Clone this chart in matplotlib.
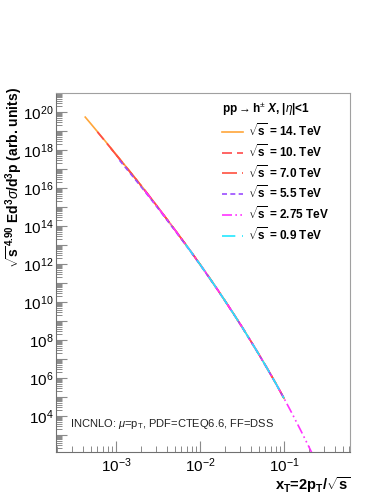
import math
import matplotlib
matplotlib.use("Agg")
import matplotlib.pyplot as plt
from matplotlib.ticker import LogLocator, FixedLocator, NullFormatter, FuncFormatter

plt.rcParams['font.family'] = ['Liberation Sans', 'DejaVu Sans']
plt.rcParams['mathtext.fontset'] = 'custom'
plt.rcParams['mathtext.rm'] = 'Liberation Sans'
plt.rcParams['mathtext.bf'] = 'Liberation Sans:bold'
plt.rcParams['mathtext.it'] = 'Liberation Sans:italic'
plt.rcParams['mathtext.bfit'] = 'Liberation Sans:bold:italic'

# ---- data ----
energies = ["14.", "10.", "7.0", "5.5", "2.75", "0.9"]

xt_14 = [4.3e-4, 5.0e-4, 6.0e-4, 7.0e-4, 8.6e-4, 1.1e-3, 1.3e-3, 1.6e-3, 2.2e-3,
         3.0e-3, 4.0e-3, 5.0e-3, 6.7e-3, 8.0e-3, 1.0e-2, 1.3e-2, 1.6e-2, 2.0e-2,
         2.5e-2, 3.2e-2, 4.0e-2, 5.0e-2, 6.3e-2, 8.0e-2, 1.0e-1]
y_14 = [5.4e19, 2.45e19, 9.3e18, 4.1e18, 1.35e18, 3.55e17, 1.43e17, 4.6e16, 7.8e15,
        1.32e15, 2.45e14, 6.6e13, 1.15e13, 3.9e12, 9.8e11, 1.86e11, 4.9e10, 1.12e10,
        2.5e9, 4.6e8, 9.3e7, 1.86e7, 3.3e6, 5.25e5, 8.7e4]

xt_10 = [6.0e-4, 7.0e-4, 8.6e-4, 1.1e-3, 1.3e-3, 1.6e-3, 2.2e-3,
         3.0e-3, 4.0e-3, 5.0e-3, 6.7e-3, 8.0e-3, 1.0e-2, 1.3e-2, 1.6e-2, 2.0e-2,
         2.5e-2, 3.2e-2, 4.0e-2, 5.0e-2, 6.3e-2, 8.0e-2, 1.0e-1]
y_10 = [9.0e18, 3.95e18, 1.3e18, 3.4e17, 1.38e17, 4.45e16, 7.6e15,
        1.29e15, 2.4e14, 6.5e13, 1.13e13, 3.85e12, 9.7e11, 1.84e11, 4.85e10, 1.11e10,
        2.48e9, 4.55e8, 9.2e7, 1.84e7, 3.27e6, 5.2e5, 8.6e4]

xt_7 = [8.6e-4, 1.1e-3, 1.3e-3, 1.6e-3, 2.2e-3,
        3.0e-3, 4.0e-3, 5.0e-3, 6.7e-3, 8.0e-3, 1.0e-2, 1.3e-2, 1.6e-2, 2.0e-2,
        2.5e-2, 3.2e-2, 4.0e-2, 5.0e-2, 6.3e-2, 8.0e-2, 1.0e-1]
y_7 = [1.28e18, 3.35e17, 1.35e17, 4.4e16, 7.5e15,
       1.28e15, 2.38e14, 6.45e13, 1.12e13, 3.82e12, 9.6e11, 1.83e11, 4.8e10, 1.1e10,
       2.46e9, 4.52e8, 9.15e7, 1.83e7, 3.25e6, 5.2e5, 8.6e4]

xt_55 = [1.1e-3, 1.3e-3, 1.6e-3, 2.2e-3,
         3.0e-3, 4.0e-3, 5.0e-3, 6.7e-3, 8.0e-3, 1.0e-2, 1.3e-2, 1.6e-2, 2.0e-2,
         2.5e-2, 3.2e-2, 4.0e-2, 5.0e-2, 6.3e-2, 8.0e-2, 1.0e-1]
y_55 = [2.9e17, 1.18e17, 3.85e16, 6.7e15,
        1.16e15, 2.2e14, 6.0e13, 1.06e13, 3.65e12, 9.3e11, 1.78e11, 4.7e10, 1.08e10,
        2.42e9, 4.45e8, 9.0e7, 1.8e7, 3.2e6, 5.1e5, 8.5e4]

xt_275 = [2.2e-3, 3.0e-3, 4.0e-3, 5.0e-3, 6.7e-3, 8.0e-3, 1.0e-2, 1.3e-2, 1.6e-2,
          2.0e-2, 2.5e-2, 3.2e-2, 4.0e-2, 5.0e-2, 6.3e-2, 8.0e-2, 1.0e-1,
          1.25e-1, 1.6e-1, 2.0e-1, 2.4e-1]
y_275 = [7.4e15, 1.27e15, 2.38e14, 6.45e13, 1.13e13, 3.85e12, 9.7e11, 1.85e11, 4.85e10,
         1.11e10, 2.48e9, 4.55e8, 9.2e7, 1.85e7, 3.28e6, 5.2e5, 8.6e4,
         1.35e4, 1.6e3, 2.2e2, 4.1e1]

xt_09 = [6.7e-3, 8.0e-3, 1.0e-2, 1.3e-2, 1.6e-2, 2.0e-2,
         2.5e-2, 3.2e-2, 4.0e-2, 5.0e-2, 6.3e-2, 8.0e-2, 1.0e-1]
y_09 = [1.12e13, 3.8e12, 9.6e11, 1.83e11, 4.8e10, 1.1e10,
        2.45e9, 4.5e8, 9.1e7, 1.83e7, 3.25e6, 5.2e5, 8.6e4]

series_x = [xt_14, xt_10, xt_7, xt_55, xt_275, xt_09]
series_y = [y_14, y_10, y_7, y_55, y_275, y_09]

# ---- styles ----
colors = ["#ffa63a", "#ff4a4a", "#ff5040", "#9b4dff", "#ff33ff", "#22e8ff"]
dashes = [None, (6, 3), (9, 3, 1, 3), (3, 2), (6, 2, 1, 2, 1, 2), (8, 4)]

fig = plt.figure(figsize=(3.82, 4.94), dpi=100)
ax = fig.add_axes([56/382, 42/494, 294/382, 359/494])

handles = []
for xs, ys, c, d in zip(series_x, series_y, colors, dashes):
    ln, = ax.plot(xs, ys, color=c, lw=1.2)
    if d is not None:
        ln.set_dashes(d)
    handles.append(ln)

ax.set_xscale('log')
ax.set_yscale('log')
ax.set_xlim(1.93e-4, 0.61)
ax.set_ylim(1.3e2, 1e21)

for sp in ['top', 'right']:
    ax.spines[sp].set_color('#a0a0a0')
for sp in ['left', 'bottom']:
    ax.spines[sp].set_color('#707070')
for sp in ax.spines.values():
    sp.set_linewidth(0.8)

ax.xaxis.set_major_locator(LogLocator(base=10, numticks=20))
ax.xaxis.set_minor_locator(LogLocator(base=10, subs=range(2, 10), numticks=20))
ax.yaxis.set_major_locator(FixedLocator([10.0**k for k in range(3, 21)]))
ax.yaxis.set_minor_locator(LogLocator(base=10, subs=range(2, 10), numticks=40))
ax.xaxis.set_minor_formatter(NullFormatter())
ax.yaxis.set_minor_formatter(NullFormatter())

def yfmt(v, pos):
    k = int(round(math.log10(v)))
    return r'$10^{%d}$' % k if k % 2 == 0 else ''

def xfmt(v, pos):
    k = int(round(math.log10(v)))
    return r'$10^{%d}$' % k

ax.yaxis.set_major_formatter(FuncFormatter(yfmt))
ax.xaxis.set_major_formatter(FuncFormatter(xfmt))

ax.tick_params(axis='both', which='both', direction='in', colors='#8a8a8a',
               labelcolor='black', labelsize=11, top=False, right=False)
ax.tick_params(axis='both', which='major', length=8, width=0.8)
ax.tick_params(axis='both', which='minor', length=4, width=0.7)
ax.tick_params(axis='x', which='major', pad=3)
ax.tick_params(axis='y', which='major', pad=2)

# axis titles
fig.text(14/382, 1 - 87/494,
         r'$\sqrt{\mathbf{s}}^{\,\mathbf{4.90}}$ Ed$^{\mathbf{3}}$$\sigma$/d$^{\mathbf{3}}$p (arb. units)',
         rotation=90, ha='center', va='top', fontsize=10, fontweight='bold')
fig.text(350/382, 9/494, r'$\mathbf{x_{T}}$=2$\mathbf{p_{T}}$/$\sqrt{\mathbf{s}}$',
         ha='right', va='center', fontsize=10.5, fontweight='bold')

# annotation
fig.text(70/382, 1 - 424/494, r'INCNLO: $\mu$=p$_{\mathrm{T}}$, PDF=CTEQ6.6, FF=DSS',
         fontsize=8, ha='left', va='center', color='#222222')

# legend
labels = [r'$\sqrt{\mathbf{s}}$ = %s TeV' % e for e in energies]
leg = ax.legend(handles, labels, loc='upper left', bbox_to_anchor=(0.555, 0.985),
                frameon=False, handlelength=1.85, handletextpad=0.35,
                labelspacing=0.34, borderaxespad=0.0, borderpad=0.2,
                title=r'pp$\rightarrow$h$^{\pm}$ $\mathbfit{X}$, |$\eta$|<1',
                title_fontsize=8.5, prop={'weight': 'bold', 'size': 8.5})
leg.get_title().set_fontweight('bold')
leg._legend_box.align = 'left'

fig.savefig('out.png', dpi=100)
